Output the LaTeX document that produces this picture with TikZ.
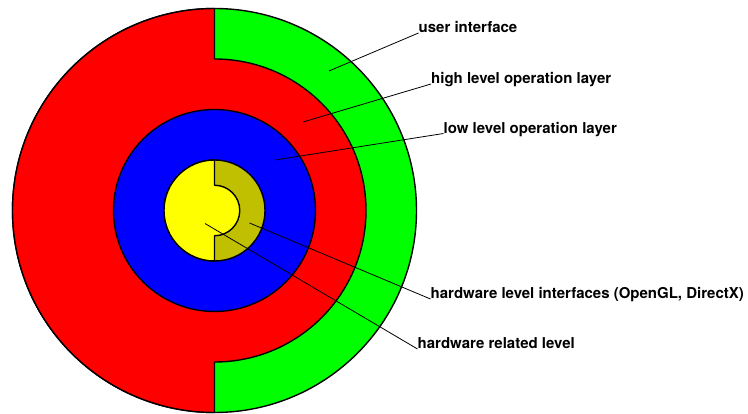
\documentclass[tikz,border=0pt]{standalone}
\usepackage{fontspec}
\setmainfont{TeX Gyre Heros}
\usetikzlibrary{calc}
\definecolor{ringgreen}{RGB}{0,255,0}
\definecolor{ringred}{RGB}{255,0,0}
\definecolor{ringblue}{RGB}{0,0,255}
\definecolor{coreyellow}{RGB}{255,255,0}
\definecolor{coreolive}{RGB}{192,192,0}
\begin{document}
\begin{tikzpicture}[x=1pt,y=1pt,
  ring/.style={draw=black,line width=1.4pt,line join=round},
  pointer/.style={draw=black,line width=0.8pt},
  lbl/.style={anchor=base west,inner sep=0pt,font=\fontsize{15}{18}\selectfont\bfseries}]
\useasboundingbox (0,0) rectangle (748,-414);
\def\u{25.25}
\coordinate (c) at (214.5,-210.5);

% outer ring: user interface
\path[ring,fill=ringgreen] (c) circle[radius=8*\u];
% high level operation layer: left half of outer disk plus right half of middle disk
\path[ring,fill=ringred] ($(c)+(0,8*\u)$) arc[start angle=90,end angle=270,radius=8*\u]
  -- ($(c)+(0,-6*\u)$) arc[start angle=270,end angle=450,radius=6*\u] -- cycle;
% low level operation layer
\path[ring,fill=ringblue] (c) circle[radius=4*\u];
% hardware level interfaces
\path[ring,fill=coreolive] (c) circle[radius=2*\u];
% hardware related level
\path[ring,fill=coreyellow] ($(c)+(0,2*\u)$) arc[start angle=90,end angle=270,radius=2*\u]
  -- ($(c)+(0,-\u)$) arc[start angle=270,end angle=450,radius=\u] -- cycle;

% labels
\node[lbl] (ui) at (418.5,-33) {user interface};
\node[lbl] (hl) at (431,-84) {high level operation layer};
\node[lbl] (ll) at (443.5,-133.5) {low level operation layer};
\node[lbl] (hi) at (430.5,-299) {hardware level interfaces (OpenGL, DirectX)};
\node[lbl] (hr) at (417.5,-349) {hardware related level};

% pointer start points inside the rings
\coordinate (uiP) at (329,-71);
\coordinate (hlP) at (303,-122);
\coordinate (llP) at (275,-160);
\coordinate (hiP) at (249.5,-223);
\coordinate (hrP) at (205,-223.5);

\draw[pointer] (uiP) -- (ui.base west);
\draw[pointer] (hlP) -- (hl.base west);
\draw[pointer] (llP) -- (ll.base west);
\draw[pointer] (hiP) -- (hi.base west);
\draw[pointer] (hrP) -- (hr.base west);
\end{tikzpicture}
\end{document}
